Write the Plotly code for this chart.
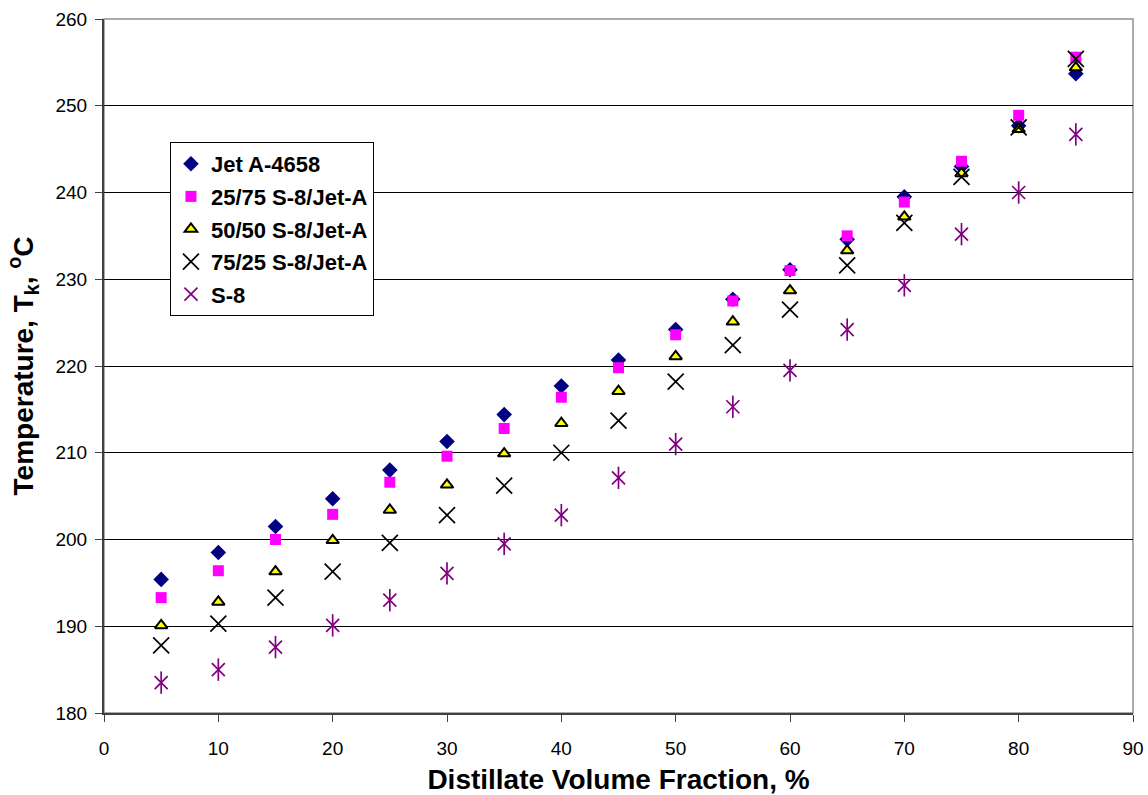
import plotly.graph_objects as go

x_vals = [5, 10, 15, 20, 25, 30, 35, 40, 45, 50, 55, 60, 65, 70, 75, 80, 85]

jet_a = [195.4, 198.5, 201.5, 204.7, 208.0, 211.3, 214.4, 217.7, 220.7, 224.2,
         227.7, 231.1, 234.6, 239.5, 243.0, 247.7, 253.7]
blend_25_75 = [193.3, 196.4, 200.0, 202.9, 206.6, 209.6, 212.8, 216.4, 219.8, 223.6,
               227.5, 231.0, 235.0, 238.9, 243.6, 248.9, 255.6]
blend_50_50 = [190.1, 192.8, 196.3, 199.9, 203.4, 206.3, 209.9, 213.4, 217.1, 221.1,
               225.1, 228.7, 233.3, 237.2, 242.2, 247.3, 254.4]
blend_75_25 = [187.8, 190.3, 193.3, 196.3, 199.6, 202.8, 206.2, 210.0, 213.7, 218.2,
               222.4, 226.5, 231.6, 236.5, 241.8, 247.5, 255.4]
s8 = [183.5, 185.0, 187.6, 190.1, 193.0, 196.1, 199.5, 202.8, 207.1, 211.0,
      215.3, 219.5, 224.2, 229.3, 235.2, 240.0, 246.7]

names = ["Jet A-4658", "25/75 S-8/Jet-A", "50/50 S-8/Jet-A", "75/25 S-8/Jet-A", "S-8"]

x_ticks = [0, 10, 20, 30, 40, 50, 60, 70, 80, 90]
y_ticks = [180, 190, 200, 210, 220, 230, 240, 250, 260]

FONT = "Arial, Liberation Sans, sans-serif"

fig = go.Figure()

fig.add_trace(go.Scatter(x=x_vals, y=jet_a, mode="markers", name="<b>%s</b>" % names[0],
                         legendgroup="g1",
                         marker=dict(symbol="diamond", size=12, color="#000080",
                                     line=dict(width=0))))
fig.add_trace(go.Scatter(x=x_vals, y=blend_25_75, mode="markers", name="<b>%s</b>" % names[1],
                         legendgroup="g2",
                         marker=dict(symbol="square", size=11, color="#FF00FF",
                                     line=dict(width=0))))
fig.add_trace(go.Scatter(x=x_vals, y=blend_50_50, mode="markers", name="<b>%s</b>" % names[2],
                         legendgroup="g3",
                         marker=dict(symbol="triangle-up", size=11, color="#FFFF00",
                                     line=dict(width=2, color="black"))))
fig.add_trace(go.Scatter(x=x_vals, y=blend_75_25, mode="markers", name="<b>%s</b>" % names[3],
                         legendgroup="g4",
                         marker=dict(symbol="x-thin-open", size=16, color="black",
                                     line=dict(width=1.7, color="black"))))
fig.add_trace(go.Scatter(x=x_vals, y=s8, mode="markers", name="<b>%s</b>" % names[4],
                         legendgroup="g5",
                         marker=dict(symbol="x-thin-open", size=13, color="#800080",
                                     line=dict(width=1.7, color="#800080"))))
fig.add_trace(go.Scatter(x=x_vals, y=s8, mode="markers", name=names[4],
                         legendgroup="g5", showlegend=False,
                         marker=dict(symbol="line-ns-open", size=16, color="#800080",
                                     line=dict(width=1.7, color="#800080"))))

fig.add_shape(type="rect", xref="x domain", yref="y domain", x0=0, x1=1, y0=0, y1=1,
              line=dict(color="#909090", width=1.5), layer="below")

fig.update_layout(
    width=1148, height=795,
    margin=dict(l=104, r=15, t=19, b=82),
    paper_bgcolor="white", plot_bgcolor="white",
    font=dict(family=FONT, color="black", size=19),
    showlegend=True,
    legend=dict(x=0.0641, y=0.8228, xanchor="left", yanchor="top",
                bgcolor="white", bordercolor="black", borderwidth=1,
                font=dict(family=FONT, size=22, color="black"),
                itemsizing="trace", traceorder="grouped", tracegroupgap=1),
    xaxis=dict(range=[0, 90], tickvals=x_ticks, ticks="outside", ticklen=7,
               tickcolor="#404040", showline=True, linecolor="#404040", linewidth=2,
               showgrid=False, zeroline=False, automargin=False,
               ticklabelstandoff=10,
               tickfont=dict(size=19, family=FONT),
               title=dict(text="<b>Distillate Volume Fraction, %</b>", standoff=14,
                          font=dict(size=28, family=FONT))),
    yaxis=dict(range=[180, 260], tickvals=y_ticks, ticks="outside", ticklen=7,
               tickcolor="#404040", showline=True, linecolor="#404040", linewidth=2,
               showgrid=True, gridcolor="black", gridwidth=1, zeroline=False,
               automargin=False, ticklabelstandoff=4,
               tickfont=dict(size=19, family=FONT),
               title=dict(text="<b>Temperature, T<sub>k</sub>, <sup>o</sup>C</b>", standoff=14,
                          font=dict(size=28, family=FONT))),
)

fig.write_html("out.html")
